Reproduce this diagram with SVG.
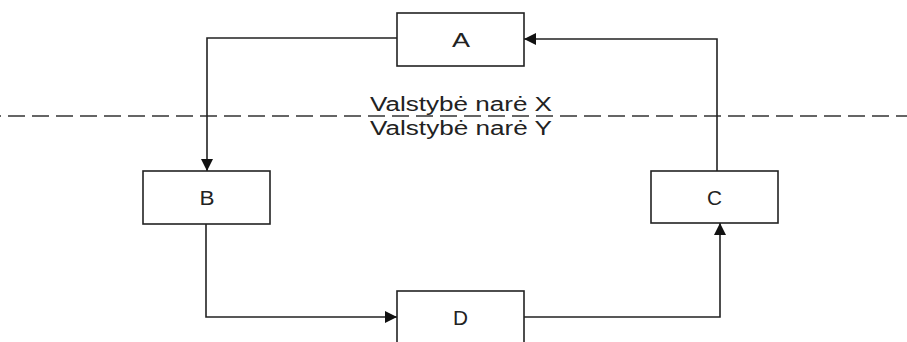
<svg xmlns="http://www.w3.org/2000/svg" width="907" height="342" viewBox="0 0 907 342">
<style>
.box{fill:#fff;stroke:#222;stroke-width:1.6}
.conn{fill:none;stroke:#222;stroke-width:1.6}
.lbl{font-family:"Liberation Sans",Arial,sans-serif;font-size:20px;fill:#222;text-anchor:middle}
.zone{font-family:"Liberation Sans",Arial,sans-serif;font-size:20px;fill:#222}
</style>
<defs>
<marker id="ah" viewBox="0 0 12 12" refX="12" refY="6" markerWidth="12" markerHeight="12" markerUnits="userSpaceOnUse" orient="auto">
<path d="M0,0 L12,6 L0,12 Z" fill="#111"/>
</marker>
</defs>
<rect width="907" height="342" fill="#fff"/>
<g id="boundary">
<line x1="0" y1="116" x2="907" y2="116" stroke="#333" stroke-width="1.6" stroke-dasharray="17 7" stroke-dashoffset="-8"/>
<text class="zone" x="370" y="111" textLength="182" lengthAdjust="spacingAndGlyphs">Valstybė narė X</text>
<text class="zone" x="370" y="135" textLength="182" lengthAdjust="spacingAndGlyphs">Valstybė narė Y</text>
</g>
<g id="connectors">
<path class="conn" d="M397,38 H207 V171" marker-end="url(#ah)"/>
<path class="conn" d="M206,224 V317 H397" marker-end="url(#ah)"/>
<path class="conn" d="M524,317 H720 V223" marker-end="url(#ah)"/>
<path class="conn" d="M717,171 V39 H524" marker-end="url(#ah)"/>
</g>
<g id="node-A">
<rect class="box" x="397" y="13" width="127" height="53"/>
<text class="lbl" x="461" y="47" textLength="18" lengthAdjust="spacingAndGlyphs">A</text>
</g>
<g id="node-B">
<rect class="box" x="143" y="171" width="127" height="53"/>
<text class="lbl" x="207" y="205" textLength="15" lengthAdjust="spacingAndGlyphs">B</text>
</g>
<g id="node-C">
<rect class="box" x="651" y="171" width="127" height="52"/>
<text class="lbl" x="714.5" y="205" textLength="15" lengthAdjust="spacingAndGlyphs">C</text>
</g>
<g id="node-D">
<rect class="box" x="397" y="291" width="127" height="53"/>
<text class="lbl" x="460.5" y="325" textLength="15" lengthAdjust="spacingAndGlyphs">D</text>
</g>
</svg>
